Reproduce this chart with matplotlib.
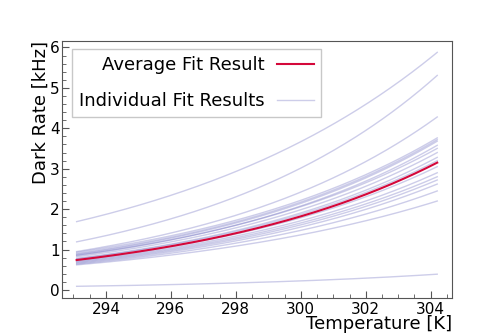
import numpy as np
import matplotlib.pyplot as plt

# exponential fit results: rate(T) = rate_t0 * exp(slope * (T - T0))
T0 = 293.1
T_END = 304.2

# individual fits (rate at T0 in kHz, slope in 1/K)
indiv_rate_t0 = [1.69, 1.19, 0.95, 0.93, 0.90, 0.88, 0.85, 0.86, 0.82, 0.78,
                 0.77, 0.74, 0.72, 0.70, 0.68, 0.66, 0.64, 0.62, 0.09]
indiv_slope = [0.1123, 0.1347, 0.1356, 0.1259, 0.1278, 0.1289, 0.1295, 0.1265,
               0.1281, 0.1294, 0.1283, 0.1276, 0.1255, 0.1249, 0.1249, 0.1242,
               0.1209, 0.1141, 0.1321]

# average fit
avg_rate_t0 = 0.74
avg_slope = 0.1305


def model(T, a, b):
    return a * np.exp(b * (T - T0))


T = np.linspace(T0, T_END, 200)

fig = plt.figure(figsize=(5.03, 3.36), dpi=100)
ax = fig.add_axes([0.1233, 0.113, 0.775, 0.766])

for i, (a, b) in enumerate(zip(indiv_rate_t0, indiv_slope)):
    ax.plot(T, model(T, a, b), color="#5a5ab8", alpha=0.3, linewidth=1.0,
            label="Individual Fit Results" if i == 0 else None)
ax.plot(T, model(T, avg_rate_t0, avg_slope), color="#d4083a", linewidth=1.5,
        label="Average Fit Result", zorder=5)

ax.set_xlim(292.65, 304.65)
ax.set_xticks([294, 296, 298, 300, 302, 304])
ax.set_xticks(np.arange(293.0, 304.7, 0.5), minor=True)
ax.set_yticks(range(0, 7))
ax.set_yticks(np.arange(-0.2, 6.2, 0.2), minor=True)
ax.tick_params(which="both", direction="in", colors="#555555", labelcolor="black",
               labelsize=11)
ax.tick_params(axis="x", which="major", pad=2.5)
ax.tick_params(axis="y", which="major", pad=1.8)
ax.tick_params(which="major", length=5)
ax.tick_params(which="minor", length=3)
for s in ax.spines.values():
    s.set_color("#555555")

ax.set_xlabel("Temperature [K]", fontsize=13, loc="right", labelpad=-1)
ax.set_ylabel("Dark Rate [kHz]", fontsize=13, loc="top", labelpad=0)

handles, labels = ax.get_legend_handles_labels()
ax.legend(handles[::-1], labels[::-1], loc="upper left", fontsize=13,
          bbox_to_anchor=(10 / 390, 1 - 8.3 / 257), borderaxespad=0,
          markerfirst=False, fancybox=False, edgecolor="#bbbbbb",
          handlelength=2.05, handletextpad=0.65, labelspacing=1.0)

fig.savefig("out.png", dpi=100)
